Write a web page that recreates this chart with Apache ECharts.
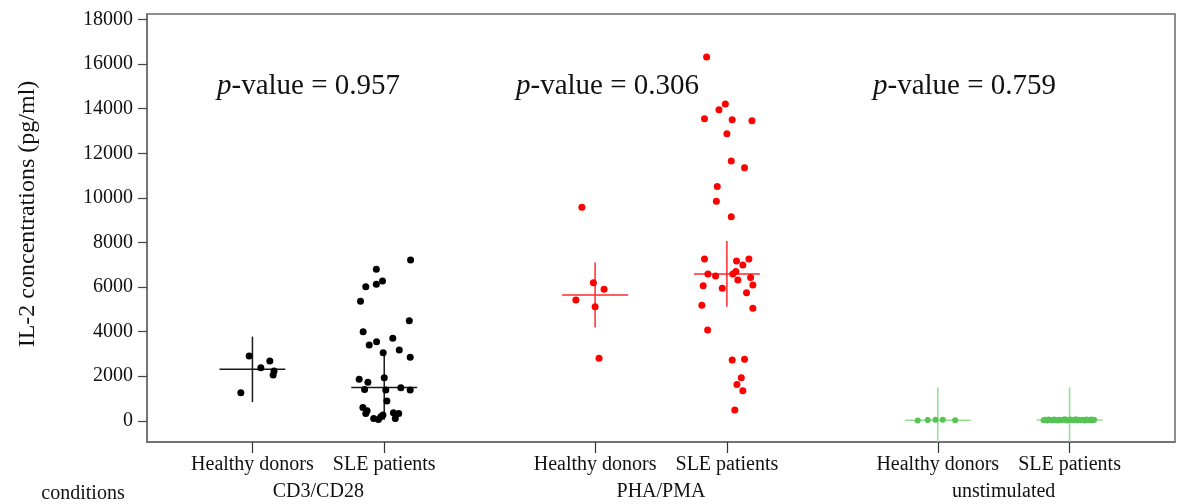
<!DOCTYPE html>
<html>
<head>
<meta charset="utf-8">
<script src="https://cdn.jsdelivr.net/npm/echarts@6/dist/echarts.min.js"></script>
<style>
  html, body { margin: 0; padding: 0; background: #fff; }
  #chart { width: 1178px; height: 504px; }
</style>
</head>
<body>
<div id="chart"></div>
<script>
// x position of each column (value axis, one unit per column)
const colNames = ['Healthy donors', 'SLE patients', 'Healthy donors', 'SLE patients', 'Healthy donors', 'SLE patients'];
const colPos = [1, 2, 3.6, 4.6, 6.2, 7.2];
const groupNames = ['CD3/CD28', 'PHA/PMA', 'unstimulated'];
const groupPos = [1.5, 4.1, 6.7];
const pValues = ['0.957', '0.306', '0.759'];
const yTicks = [0, 2000, 4000, 6000, 8000, 10000, 12000, 14000, 16000, 18000];

// CD3/CD28
const cd3HealthyVal = [2906, 2682, 2381, 2233, 2053, 1258];
const cd3HealthyJit = [-0.025, 0.132, 0.064, 0.164, 0.157, -0.088];
const cd3SleVal = [7219, 6801, 6275, 6127, 6019, 5363, 4492, 3998, 3701, 3549, 3400, 3176, 3055, 2848,
  1860, 1932, 1725, 1410, 1379, 1482, 1379, 885, 602, 449, 332, 256, 359, 332, 108, 108, 63, 180];
const cd3SleJit = [0.2, -0.06, -0.013, -0.06, -0.14, -0.18, 0.19, -0.16, 0.065, -0.058, -0.114, 0.114, -0.008, 0.197,
  -0.19, 0, -0.124, -0.149, 0.012, 0.126, 0.197, 0.02, -0.162, -0.13, -0.14, -0.01, 0.07, 0.11, 0.084, -0.08, -0.044, -0.026];

// PHA/PMA
const phaHealthyVal = [9586, 6199, 5902, 5422, 5121, 2803];
const phaHealthyJit = [-0.1, -0.013, 0.068, -0.146, 0, 0.03];
const phaSleVal = [16324, 14213, 13957, 13553, 13507, 13462, 12879, 11652, 11352, 10511, 9855, 9150,
  7264, 7264, 7174, 6994, 6590, 6500, 6590, 6693, 6320, 6424, 6064, 5947, 6095, 5750, 5184, 5049,
  4074, 2727, 2758, 1932, 1635, 1348, 481];
const phaSleJit = [-0.154, -0.012, -0.06, -0.17, 0.04, 0.19, 0, 0.033, 0.134, -0.073, -0.08, 0.033,
  -0.17, 0.167, 0.073, 0.121, -0.144, -0.086, 0.045, 0.068, 0.083, 0.18, -0.18, -0.035, 0.197, 0.149, -0.19, 0.197,
  -0.146, 0.04, 0.134, 0.109, 0.076, 0.121, 0.06];

// unstimulated
const unsHealthyVal = [20, 35, 50, 45, 30];
const unsHealthyJit = [-0.152, -0.076, -0.017, 0.038, 0.132];
const unsSleVal = [30, 45, 20, 55, 35, 25, 60, 40, 15, 50, 30, 45, 70, 20, 35, 55, 40, 25, 65, 30,
  50, 35, 45, 20, 60, 40, 30, 55, 25, 45];
const unsSleJit = [-0.197, -0.185, -0.17, -0.158, -0.145, -0.13, -0.118, -0.105, -0.09, -0.078, -0.065, -0.05,
  -0.035, -0.02, -0.008, 0.005, 0.02, 0.033, 0.048, 0.06, 0.075, 0.088, 0.1, 0.115, 0.128, 0.14, 0.155, 0.165, 0.176, 0.186];

// mean and error bar (the crosses)
const crossMean = [2309, 1500, 5646, 6590, 30, 40];
const crossErr = [1470, 1450, 1460, 1475, 1470, 1460];
const crossColor = ['#1a1a1a', '#1a1a1a', '#ff2a2a', '#ff2a2a', '#8fe08f', '#8fe08f'];

const serif = '"Liberation Serif", "DejaVu Serif", serif';

function pts(pos, vals, jit) {
  return vals.map((v, i) => [pos + jit[i], v]);
}

function scatter(data, color, size) {
  return {
    type: 'scatter',
    data: data,
    symbolSize: size,
    itemStyle: { color: color, opacity: 1 },
    z: 3
  };
}

const crossData = colPos.map((p, i) => [p, crossMean[i], crossErr[i], i]);

const chart = echarts.init(document.getElementById('chart'));
chart.setOption({
  animation: false,
  grid: {
    left: 147, right: 3, top: 14, bottom: 62,
    show: true, borderColor: '#6b6b6b', borderWidth: 1.5
  },
  xAxis: [{
    type: 'value', min: 0.2, max: 8.0,
    splitLine: { show: false },
    axisLine: { show: true, onZero: false, lineStyle: { color: '#6b6b6b', width: 1.5 } },
    axisTick: { show: true, length: 11, customValues: colPos, lineStyle: { color: '#333', width: 1.2 } },
    axisLabel: {
      customValues: colPos, margin: 13,
      color: '#111', fontFamily: serif, fontSize: 20,
      formatter: v => colNames[colPos.indexOf(v)] || ''
    }
  }, {
    type: 'value', min: 0.2, max: 8.0, position: 'bottom',
    splitLine: { show: false },
    axisLine: { show: false, onZero: false },
    axisTick: { show: false },
    axisLabel: {
      customValues: groupPos, margin: 40,
      color: '#111', fontFamily: serif, fontSize: 20,
      formatter: v => groupNames[groupPos.indexOf(v)] || ''
    }
  }],
  yAxis: {
    type: 'value', min: -950, max: 18250,
    splitLine: { show: false },
    axisLine: { show: true, onZero: false, lineStyle: { color: '#6b6b6b', width: 1.5 } },
    axisTick: { show: true, length: 9, customValues: yTicks, lineStyle: { color: '#444', width: 1.2 } },
    axisLabel: {
      customValues: yTicks, margin: 14, color: '#111', fontFamily: serif, fontSize: 20,
      formatter: v => String(v)
    }
  },
  graphic: [
    {
      type: 'text', x: 28, y: 214, rotation: Math.PI / 2,
      style: {
        text: 'IL-2 concentrations (pg/ml)', fill: '#111',
        font: '24px ' + serif, align: 'center', verticalAlign: 'middle'
      }
    },
    {
      type: 'text', x: 83, y: 494,
      style: { text: 'conditions', fill: '#111', font: '20px ' + serif, align: 'center', verticalAlign: 'middle' }
    }
  ].concat([217, 516, 873].map((x, i) => ({
    type: 'text', x: x, y: 86,
    style: {
      text: '{i|p}-value = ' + pValues[i], fill: '#111',
      font: '29px ' + serif, verticalAlign: 'middle',
      rich: { i: { fontStyle: 'italic', fontFamily: serif, fontSize: 29, fill: '#111' } }
    }
  }))),
  series: [
    {
      type: 'custom',
      clip: true,
      z: 2,
      data: crossData,
      renderItem: function (params, api) {
        const x = api.value(0), m = api.value(1), e = api.value(2);
        const col = crossColor[api.value(3)];
        const l = api.coord([x - 0.25, m]);
        const r = api.coord([x + 0.25, m]);
        const t = api.coord([x, m + e]);
        const b = api.coord([x, m - e]);
        return {
          type: 'group',
          children: [
            { type: 'line', shape: { x1: l[0], y1: l[1], x2: r[0], y2: r[1] }, style: { stroke: col, lineWidth: 1.5 } },
            { type: 'line', shape: { x1: t[0], y1: t[1], x2: b[0], y2: b[1] }, style: { stroke: col, lineWidth: 1.5 } }
          ]
        };
      }
    },
    scatter(pts(colPos[0], cd3HealthyVal, cd3HealthyJit), '#000', 7),
    scatter(pts(colPos[1], cd3SleVal, cd3SleJit), '#000', 7),
    scatter(pts(colPos[2], phaHealthyVal, phaHealthyJit), '#ff0000', 7),
    scatter(pts(colPos[3], phaSleVal, phaSleJit), '#ff0000', 7),
    scatter(pts(colPos[4], unsHealthyVal, unsHealthyJit), '#55c455', 6),
    scatter(pts(colPos[5], unsSleVal, unsSleJit), '#55c455', 6)
  ]
});
</script>
</body>
</html>
